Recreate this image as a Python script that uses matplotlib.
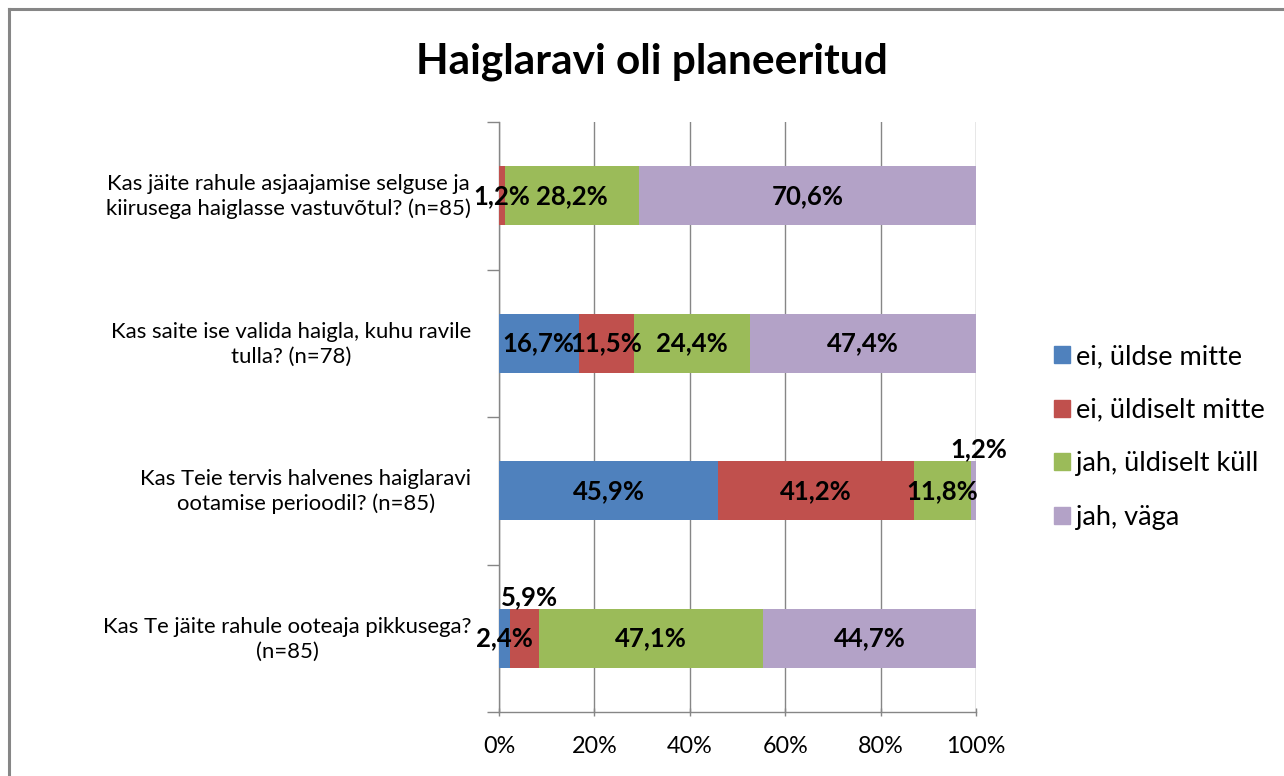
import matplotlib
matplotlib.use("Agg")
import matplotlib.pyplot as plt
from matplotlib.lines import Line2D

categories = [
    "Kas jäite rahule asjaajamise selguse ja\nkiirusega haiglasse vastuvõtul? (n=85)",
    "Kas saite ise valida haigla, kuhu ravile\ntulla? (n=78)",
    "Kas Teie tervis halvenes haiglaravi\nootamise perioodil? (n=85)",
    "Kas Te jäite rahule ooteaja pikkusega?\n(n=85)",
]
series_names = ["ei, üldse mitte", "ei, üldiselt mitte", "jah, üldiselt küll", "jah, väga"]
ei_uldse = [0.0, 16.7, 45.9, 2.4]
ei_uldiselt = [1.2, 11.5, 41.2, 5.9]
jah_uldiselt = [28.2, 24.4, 11.8, 47.1]
jah_vaga = [70.6, 47.4, 1.2, 44.7]
xticks = [0, 20, 40, 60, 80, 100]
xtick_labels = ["0%", "20%", "40%", "60%", "80%", "100%"]

colors = ["#4F81BD", "#C0504D", "#9BBB59", "#B3A2C7"]
FONT = ["Lato", "DejaVu Sans"]
plt.rcParams["font.family"] = FONT

W, H = 1284, 776
fig = plt.figure(figsize=(W / 100, H / 100), dpi=100)
ax = fig.add_axes([499 / W, 1 - 712 / H, (976 - 499) / W, (712 - 122) / H])

series = [ei_uldse, ei_uldiselt, jah_uldiselt, jah_vaga]
ypos = list(range(len(categories)))
left = [0.0] * len(categories)
bars_all = []
for name, vals, col in zip(series_names, series, colors):
    ax.barh(ypos, vals, left=left, height=0.4, color=col, label=name, zorder=3)
    bars_all.append((vals, list(left)))
    left = [l + v for l, v in zip(left, vals)]

ax.set_ylim(3.5, -0.5)
ax.set_xlim(0, 100)

# data labels
raised = {(3, 1), (2, 3)}
for si, (vals, lefts) in enumerate(bars_all):
    for ci, (v, l) in enumerate(zip(vals, lefts)):
        if v <= 0:
            continue
        txt = f"{v:.1f}%".replace(".", ",")
        cx = l + v / 2
        if (ci, si) in raised:
            ax.text(cx + 1.0, ci - 0.2, txt, ha="center", va="bottom",
                    fontsize=18.5, fontweight="bold", color="black", zorder=5)
        else:
            ax.text(cx, ci, txt, ha="center", va="center",
                    fontsize=18.5, fontweight="bold", color="black", zorder=5)

# grid and axes
ax.set_xticks(xticks)
ax.set_xticklabels(xtick_labels, fontsize=16.8)
ax.xaxis.grid(True, color="#868686", linewidth=1.0, zorder=0)
ax.set_axisbelow(True)
ax.set_yticks([-0.5, 0.5, 1.5, 2.5, 3.5])
ax.set_yticklabels([])
ax.set_yticks([y - 0.025 for y in ypos], minor=True)
ax.set_yticklabels(categories, minor=True, fontsize=15.9)
for t in ax.get_yticklabels(minor=True):
    t.set_multialignment("center")
    t.set_linespacing(1.3)
ax.tick_params(axis="y", which="minor", length=0, pad=20)
ax.tick_params(axis="y", which="major", length=9, color="#868686", width=1)
ax.tick_params(axis="x", length=6, color="#868686", width=1, pad=14, direction="inout")
for s in ["top", "right"]:
    ax.spines[s].set_visible(False)
for s in ["left", "bottom"]:
    ax.spines[s].set_color("#868686")
    ax.spines[s].set_linewidth(1.0)

fig.text(652 / W, 1 - 62 / H, "Haiglaravi oli planeeritud", ha="center", va="center",
         fontsize=30.5, fontweight="bold")

handles = [plt.Rectangle((0, 0), 1, 1, color=c) for c in colors]
fig.legend(handles, series_names, loc="center left", bbox_to_anchor=(1054 / W, 1 - 437 / H),
           frameon=False, fontsize=19.5, handlelength=0.6, handleheight=0.6,
           handletextpad=0.2, labelspacing=1.05, borderaxespad=0, borderpad=0)

# outer border
fig.add_artist(Line2D([9 / W, 1], [1 - 9 / H, 1 - 9 / H], color="#868686", linewidth=2.2,
                      transform=fig.transFigure))
fig.add_artist(Line2D([9 / W, 9 / W], [0, 1 - 9 / H], color="#868686", linewidth=2.2,
                      transform=fig.transFigure))

fig.savefig("out.png", dpi=100)
